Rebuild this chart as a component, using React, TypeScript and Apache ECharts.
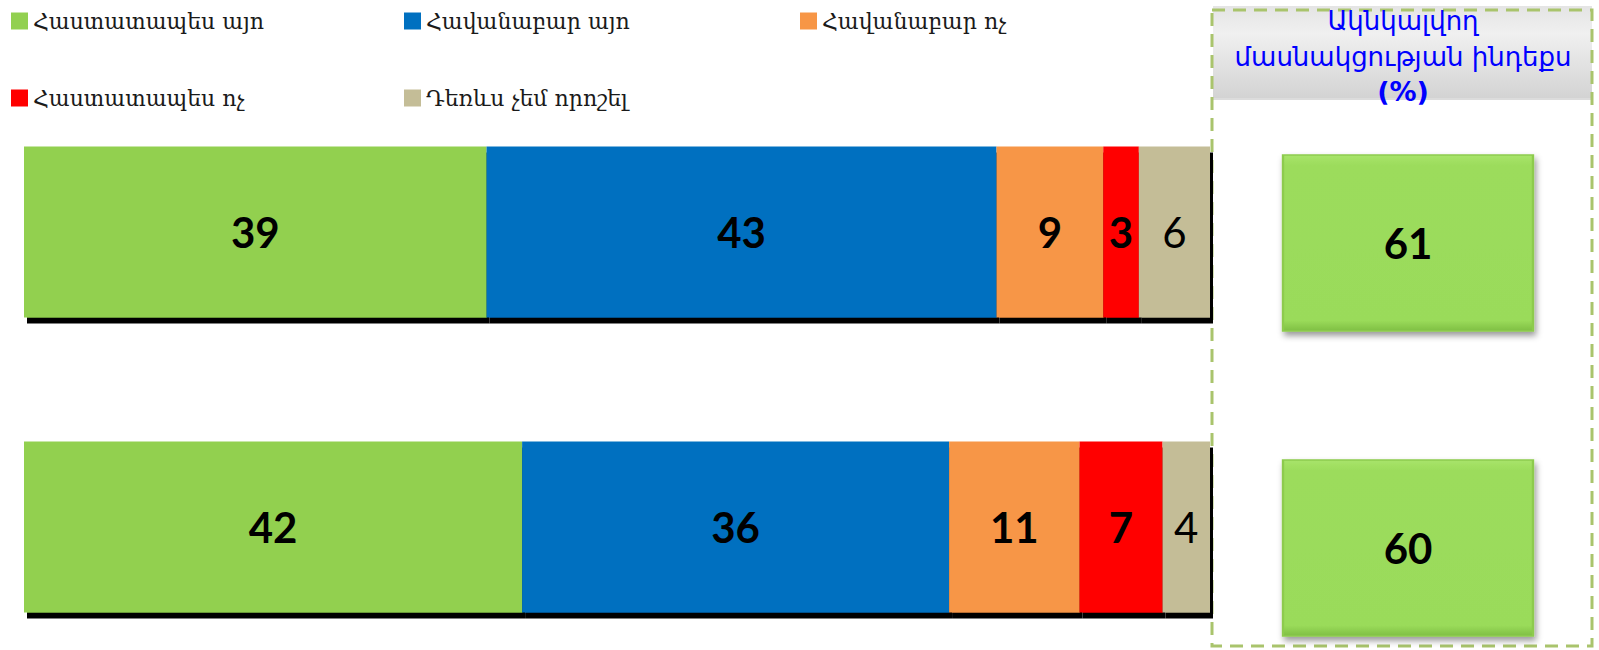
import React, { useEffect, useRef } from "react";
import * as echarts from "echarts";

// Survey waves (no visible labels in the reference)
const rows = ["A", "B"];

const seriesNames = [
  "Հաստատապես այո",
  "Հավանաբար այո",
  "Հավանաբար ոչ",
  "Հաստատապես ոչ",
  "Դեռևս չեմ որոշել",
];
const seriesColors = ["#92D050", "#0070C0", "#F79646", "#FF0000", "#C4BD97"];

const definitelyYes = [39, 42];
const probablyYes = [43, 36];
const probablyNo = [9, 11];
const definitelyNo = [3, 7];
const undecided = [6, 4];

const indexValues = [61, 60];

const panelTitle = "Ակնկալվող";
const panelTitle2 = "մասնակցության ինդեքս";
const panelUnit = "(%)";

const legendPos = [
  { left: 11, top: 10 },
  { left: 404, top: 10 },
  { left: 800, top: 10 },
  { left: 11, top: 87 },
  { left: 404, top: 87 },
];

export default function App() {
  const ref = useRef<HTMLDivElement>(null);

  useEffect(() => {
    if (!ref.current) return;
    const chart = echarts.init(ref.current, undefined, { renderer: "svg" });
    const values = [definitelyYes, probablyYes, probablyNo, definitelyNo, undecided];

    const barSeries = values.map((arr, i) => ({
      type: "bar",
      name: seriesNames[i],
      stack: "total",
      xAxisIndex: 0,
      yAxisIndex: 0,
      barWidth: 171,
      data: arr,
      itemStyle: {
        color: seriesColors[i],
        shadowColor: "#000000",
        shadowBlur: 0,
        shadowOffsetX: 3,
        shadowOffsetY: 6,
      },
      label: {
        show: true,
        position: "inside",
        color: "#000000",
        fontFamily: "Lato, 'Open Sans', sans-serif",
        fontWeight: i === 4 ? "normal" : "bold",
        fontSize: 42,
      },
    }));

    const option: any = {
      animation: false,
      backgroundColor: "#ffffff",
      legend: seriesNames.map((n, i) => ({
        data: [n],
        left: legendPos[i].left,
        top: legendPos[i].top,
        padding: 0,
        icon: "rect",
        itemWidth: 17,
        itemHeight: 17,
        itemGap: 10,
        selectedMode: false,
        textStyle: {
          fontFamily: "'DejaVu Serif', 'DejaVu Sans', serif",
          fontSize: 22,
          color: "#1a1a1a",
        },
      })),
      grid: [
        { left: 24, width: 1186, top: 232, height: 295 },
        { left: 1283, width: 250, top: 243, height: 305 },
      ],
      xAxis: [
        { type: "value", gridIndex: 0, min: 0, max: 100, show: false },
        { type: "value", gridIndex: 1, min: 0, max: 1, show: false },
      ],
      yAxis: [
        { type: "category", gridIndex: 0, data: rows, inverse: true, boundaryGap: false, show: false },
        { type: "category", gridIndex: 1, data: rows, inverse: true, boundaryGap: false, show: false },
      ],
      series: [
        ...barSeries,
        {
          type: "scatter",
          name: "index",
          xAxisIndex: 1,
          yAxisIndex: 1,
          symbol: "rect",
          symbolSize: [250, 176],
          data: indexValues.map((v, i) => [0.5, rows[i], v]),
          encode: { x: 0, y: 1 },
          itemStyle: {
            color: {
              type: "linear",
              x: 0,
              y: 0,
              x2: 0,
              y2: 1,
              colorStops: [
                { offset: 0, color: "#A8E46A" },
                { offset: 0.06, color: "#9CDC5C" },
                { offset: 0.94, color: "#9ADB5A" },
                { offset: 1, color: "#7FBF43" },
              ],
            },
            borderColor: "#8DCB4E",
            borderWidth: 2,
            shadowColor: "rgba(0,0,0,0.4)",
            shadowBlur: 6,
            shadowOffsetX: 2,
            shadowOffsetY: 4,
            opacity: 1,
          },
          label: {
            show: true,
            position: "inside",
            formatter: (p: any) => String(p.value[2]),
            color: "#000000",
            fontFamily: "Lato, 'Open Sans', sans-serif",
            fontWeight: "bold",
            fontSize: 42,
          },
        },
      ],
      graphic: [
        {
          type: "rect",
          z: -1,
          shape: { x: 1213, y: 6, width: 379, height: 92 },
          style: {
            fill: {
              type: "linear",
              x: 0,
              y: 0,
              x2: 0,
              y2: 1,
              colorStops: [
                { offset: 0, color: "#e4e4e4" },
                { offset: 0.3, color: "#f0f0f0" },
                { offset: 1, color: "#d3d3d3" },
              ],
            },
            stroke: "none",
          },
        },
        {
          type: "line",
          shape: { x1: 1213, y1: 99, x2: 1592, y2: 99 },
          style: { stroke: "#dcdcdc", lineWidth: 2 },
        },
        {
          type: "rect",
          shape: { x: 1212, y: 10, width: 380, height: 636 },
          style: {
            fill: "none",
            stroke: "#A9C46C",
            lineWidth: 3,
            lineDash: [13, 8],
          },
        },
        {
          type: "text",
          x: 1403,
          y: 3,
          style: {
            text: `{a|${panelTitle}}\n{a|${panelTitle2}}\n{b|${panelUnit}}`,
            align: "center",
            verticalAlign: "top",
            rich: {
              a: {
                fontFamily: "'DejaVu Sans', 'Noto Sans', sans-serif",
                fontSize: 26,
                lineHeight: 36,
                fill: "#0000FF",
                align: "center",
              },
              b: {
                fontFamily: "'DejaVu Sans', sans-serif",
                fontWeight: "bold",
                fontSize: 27,
                lineHeight: 32,
                fill: "#0000FF",
                align: "center",
              },
            },
          },
        },
      ],
    };

    chart.setOption(option);
    return () => chart.dispose();
  }, []);

  return (
    <div
      ref={ref}
      style={{ position: "absolute", left: 0, top: 0, width: 1599, height: 650 }}
    />
  );
}
